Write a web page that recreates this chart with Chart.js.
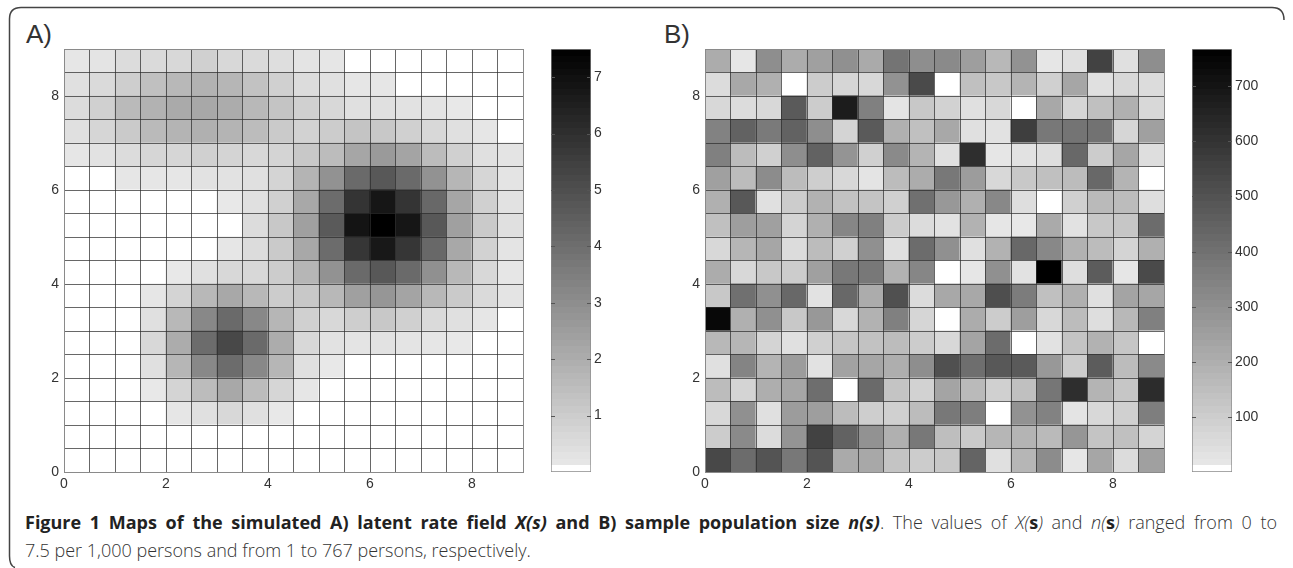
<!DOCTYPE html>
<html>
<head>
<meta charset="utf-8">
<script src="https://cdn.jsdelivr.net/npm/chart.js@4"></script>
<style>
  html, body { margin: 0; padding: 0; background: #fff; }
  body { width: 1293px; height: 568px; position: relative; overflow: hidden; font-family: "Liberation Sans", sans-serif; }
  canvas { position: absolute; }
  .frame { position: absolute; left: 0; top: 0; }
  .tag { position: absolute; top: 19px; font-size: 26px; color: #333; }
  .caption { position: absolute; left: 25px; top: 508px; width: 1252px; font-family: "Open Sans", sans-serif; font-size: 18px; line-height: 28px; color: #333; font-weight: 300; }
  .caption div { white-space: nowrap; }
  .caption .first { text-align: justify; text-align-last: justify; white-space: normal; height: 28px; }
  .caption b { color: #222; font-weight: 700; }
</style>
</head>
<body>
<svg class="frame" width="1293" height="568"><path d="M1284 20 Q1284 7.5 1272 7.5 L21 7.5 Q9.5 7.5 9.5 19 L9.5 556 Q9.5 566 15 567.5" fill="none" stroke="#444" stroke-width="1.5"/></svg>
<div class="tag" style="left:26px">A)</div>
<div class="tag" style="left:664px">B)</div>
<canvas id="map-a" width="500" height="458" style="left:34px;top:36px"></canvas>
<canvas id="bar-a" width="70" height="456" style="left:541px;top:38px"></canvas>
<canvas id="map-b" width="500" height="458" style="left:675px;top:36px"></canvas>
<canvas id="bar-b" width="90" height="456" style="left:1182px;top:38px"></canvas>
<div class="caption">
  <div class="first"><b>Figure 1 Maps of the simulated A) latent rate field <i>X(s)</i> and B) sample population size <i>n(s)</i></b>. The values of <i>X(</i><b>s</b><i>)</i> and <i>n(</i><b>s</b><i>)</i> ranged from 0 to</div>
  <div>7.5 per 1,000 persons and from 1 to 767 persons, respectively.</div>
</div>
<script>
// 潜在レート X(s): 上の行から順に18行18列
const rateRows = [
  [0.19,0.25,0.51,0.57,0.64,0.89,0.64,0.57,0.44,0.25,0.19,0,0,0,0,0,0,0],
  [0.38,0.57,0.95,1.40,1.65,1.84,1.72,1.33,0.89,0.51,0.38,0.19,0.19,0,0,0,0,0],
  [0.51,0.89,1.59,1.84,2.10,2.16,2.03,1.65,1.27,0.89,0.64,0.38,0.38,0.32,0.25,0.13,0,0],
  [0.38,0.70,1.08,1.59,1.78,1.91,1.78,1.52,1.08,0.83,1.02,1.27,1.14,0.89,0.64,0.38,0.19,0],
  [0.19,0.32,0.51,0.70,0.70,0.89,0.76,0.64,0.76,1.14,1.52,2.22,2.61,2.29,1.52,0.89,0.38,0.25],
  [0,0,0.19,0.19,0.19,0.32,0.32,0.38,0.76,1.78,2.86,4.13,4.70,4.13,2.86,1.72,0.70,0.25],
  [0,0,0,0,0,0,0.13,0.38,0.89,2.16,4.07,5.85,6.80,5.85,4.19,2.22,0.89,0.32],
  [0,0,0,0,0,0,0,0.51,1.14,2.42,4.64,6.86,7.50,6.80,4.70,2.42,1.08,0.38],
  [0,0,0,0,0,0,0.19,0.51,1.08,2.16,4.07,5.78,6.74,5.78,4.19,2.16,0.83,0.25],
  [0,0,0,0,0.13,0.38,0.64,0.64,1.02,1.72,2.86,4.13,4.70,4.13,2.92,1.65,0.64,0.19],
  [0,0,0,0.19,0.76,1.65,2.16,1.65,1.02,1.14,1.65,2.42,2.73,2.29,1.65,1.08,0.57,0.25],
  [0,0,0,0.38,1.65,3.18,4.13,3.18,1.72,0.89,0.64,0.95,1.14,0.89,0.57,0.38,0.19,0],
  [0,0,0,0.64,2.03,4.07,5.21,4.13,2.03,0.64,0.32,0.25,0.32,0.25,0.19,0.13,0,0],
  [0,0,0,0.38,1.72,3.18,4.07,3.18,1.72,0.38,0.13,0,0,0,0,0,0,0],
  [0,0,0,0.13,0.76,1.52,2.16,1.52,0.70,0.19,0,0,0,0,0,0,0,0],
  [0,0,0,0,0.19,0.38,0.64,0.38,0.13,0,0,0,0,0,0,0,0,0],
  [0,0,0,0,0,0,0,0,0,0,0,0,0,0,0,0,0,0],
  [0,0,0,0,0,0,0,0,0,0,0,0,0,0,0,0,0,0]
];

// 標本サイズ n(s): 上の行から順に18行18列
const sizeRows = [
  [208,20,305,208,247,299,214,390,305,318,253,169,292,20,39,552,39,305],
  [52,221,195,1,104,71,65,292,526,1,143,117,182,91,227,39,65,52],
  [65,52,65,474,104,676,351,26,117,84,39,65,1,221,71,143,195,65],
  [344,448,370,448,305,78,474,195,143,221,39,33,565,377,390,396,71,247],
  [351,156,91,305,448,286,91,318,182,39,617,20,33,46,429,104,227,46],
  [247,156,312,156,97,65,26,156,208,377,260,65,117,143,156,429,182,1],
  [195,481,39,104,188,136,130,91,403,273,195,325,46,1,91,162,156,46],
  [143,253,247,78,195,331,351,104,52,33,188,20,13,214,33,117,123,416],
  [65,175,227,52,156,91,299,39,416,299,39,188,429,325,188,156,78,195],
  [208,65,117,104,247,377,377,188,331,1,20,299,33,767,46,468,20,526],
  [117,403,299,429,33,429,208,507,52,221,221,513,364,143,195,39,234,227],
  [741,195,299,117,273,65,188,351,71,1,208,104,253,65,156,46,169,351],
  [169,175,78,39,91,123,136,156,104,65,234,416,1,33,130,188,123,1],
  [39,338,182,260,33,240,227,201,305,507,409,481,474,273,104,468,156,318],
  [156,78,201,227,409,1,422,130,84,234,162,91,143,383,617,182,123,624],
  [65,299,39,260,253,156,97,91,156,377,357,1,292,344,26,65,91,357],
  [104,318,52,286,552,448,292,195,377,149,110,175,182,162,279,130,143,78],
  [533,416,494,377,494,214,221,130,104,117,442,39,175,312,20,227,52,247]
];

const axisTicks = [0, 2, 4, 6, 8];
const rateBarTicks = [1, 2, 3, 4, 5, 6, 7];
const sizeBarTicks = [100, 200, 300, 400, 500, 600, 700];

const tickFont = { family: '"Liberation Sans", sans-serif', size: 14, lineHeight: '16px' };
const tickColor = '#333';
const frameColor = '#8a8a8a';
const CELL = 0.5;

// 値をグレーに変換（最下段だけ白）
function grayFor(value, min, max) {
    const t = (value - min) / (max - min);
    if (t < 0.012) return '#ffffff';
    const g = Math.round(236 * (1 - t));
    return `rgb(${g},${g},${g})`;
}

// 外枠は薄いグレー、内側の格子は濃いグレー
function gridColor(context) {
    const v = context.tick ? context.tick.value : 0;
    return (v === 0 || v === 9) ? frameColor : 'rgba(45,45,45,0.72)';
}

function drawMap(id, rows, min, max) {
    const cells = [];
    const colors = [];
    rows.forEach((row, r) => {
        row.forEach((value, c) => {
            const bottom = (rows.length - 1 - r) * CELL;
            cells.push({ x: (c + 0.5) * CELL, y: [bottom, bottom + CELL] });
            colors.push(grayFor(value, min, max));
        });
    });

    new Chart(document.getElementById(id), {
        type: 'bar',
        data: {
            datasets: [{
                data: cells,
                backgroundColor: colors,
                barPercentage: 1,
                categoryPercentage: 1,
                inflateAmount: 0.5
            }]
        },
        options: {
            responsive: false,
            animation: false,
            layout: { padding: { top: 10, right: 11 } },
            plugins: { legend: { display: false }, tooltip: { enabled: false } },
            scales: {
                x: {
                    type: 'linear',
                    offset: false,
                    min: 0,
                    max: 9,
                    afterFit: (axis) => { axis.height = 22; },
                    afterBuildTicks: (axis) => {
                        axis.ticks = rows[0].map((_, i) => ({ value: i * CELL })).concat({ value: 9 });
                    },
                    grid: { offset: false, color: gridColor, z: 1, drawTicks: false },
                    border: { color: frameColor, z: 2 },
                    ticks: {
                        autoSkip: false,
                        maxRotation: 0,
                        padding: 4,
                        color: tickColor,
                        font: tickFont,
                        callback: (v) => axisTicks.includes(v) ? v : ''
                    }
                },
                y: {
                    type: 'linear',
                    min: 0,
                    max: 9,
                    afterFit: (axis) => { axis.width = 30; },
                    afterBuildTicks: (axis) => {
                        axis.ticks = rows.map((_, i) => ({ value: i * CELL })).concat({ value: 9 });
                    },
                    grid: { color: gridColor, z: 1, drawTicks: false },
                    border: { color: frameColor, z: 2 },
                    ticks: {
                        autoSkip: false,
                        padding: 5,
                        color: tickColor,
                        font: tickFont,
                        callback: (v) => axisTicks.includes(v) ? v : ''
                    }
                }
            }
        }
    });
}

// カラーバー本体の目盛り（内向きの短い線）
const innerTicks = {
    id: 'innerTicks',
    afterDraw(chart, args, opts) {
        const { ctx, chartArea, scales } = chart;
        ctx.save();
        ctx.strokeStyle = '#555';
        ctx.lineWidth = 1;
        opts.values.forEach((v) => {
            const y = Math.round(scales.y.getPixelForValue(v)) + 0.5;
            ctx.beginPath();
            ctx.moveTo(chartArea.left, y);
            ctx.lineTo(chartArea.left + 4, y);
            ctx.moveTo(chartArea.right - 4, y);
            ctx.lineTo(chartArea.right, y);
            ctx.stroke();
        });
        ctx.restore();
    }
};

function rampFill(context, min, max) {
    const { ctx, chartArea } = context.chart;
    if (!chartArea) return '#888';
    const levels = 64;
    const fill = ctx.createLinearGradient(0, chartArea.bottom, 0, chartArea.top);
    for (let i = 0; i < levels; i++) {
        const g = grayFor(min + (max - min) * (i + 0.5) / levels, min, max);
        fill.addColorStop(i / levels, g);
        fill.addColorStop((i + 1) / levels, g);
    }
    return fill;
}

function drawColorbar(id, min, max, ticks, rightSpace) {
    new Chart(document.getElementById(id), {
        type: 'bar',
        plugins: [innerTicks],
        data: {
            labels: [''],
            datasets: [{
                data: [[min, max]],
                backgroundColor: (context) => rampFill(context, min, max),
                borderColor: frameColor,
                borderWidth: 1,
                borderSkipped: false,
                barPercentage: 1,
                categoryPercentage: 1
            }]
        },
        options: {
            responsive: false,
            animation: false,
            layout: { padding: { top: 10, left: 10, bottom: 22 } },
            plugins: {
                legend: { display: false },
                tooltip: { enabled: false },
                innerTicks: { values: ticks }
            },
            scales: {
                x: { display: false },
                y: {
                    position: 'right',
                    min: min,
                    max: max,
                    afterFit: (axis) => { axis.width = rightSpace; },
                    afterBuildTicks: (axis) => {
                        axis.ticks = ticks.map((value) => ({ value }));
                    },
                    grid: { display: false, drawTicks: false },
                    border: { display: false },
                    ticks: {
                        padding: 3,
                        color: tickColor,
                        font: tickFont,
                        callback: (v) => v
                    }
                }
            }
        }
    });
}

drawMap('map-a', rateRows, 0, 7.5);
drawMap('map-b', sizeRows, 1, 767);
drawColorbar('bar-a', 0, 7.5, rateBarTicks, 20);
drawColorbar('bar-b', 1, 767, sizeBarTicks, 40);
</script>
</body>
</html>
